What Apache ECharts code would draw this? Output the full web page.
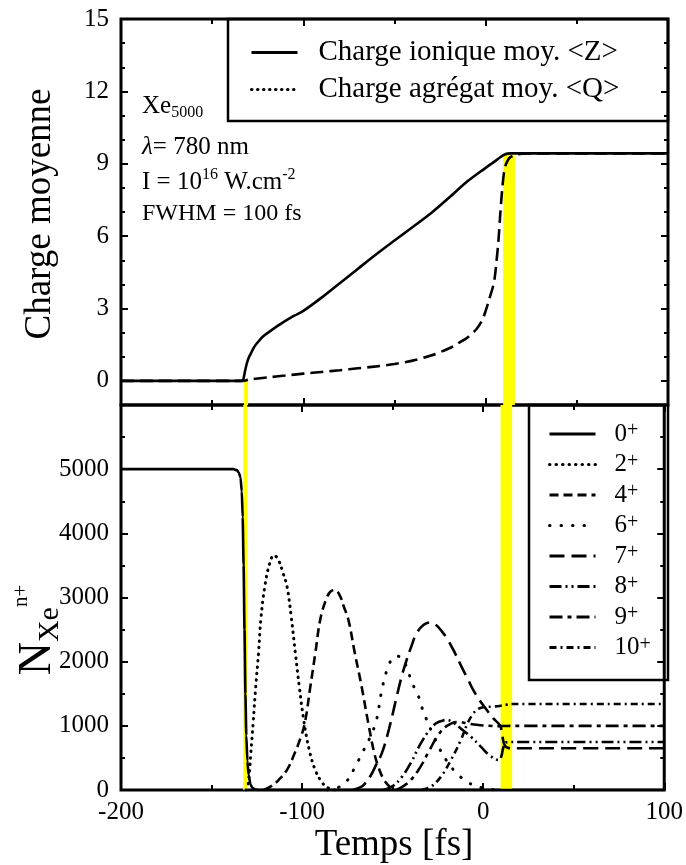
<!DOCTYPE html>
<html>
<head>
<meta charset="utf-8">
<script src="https://cdn.jsdelivr.net/npm/echarts@6/dist/echarts.min.js"></script>
<style>
  html, body { margin: 0; padding: 0; background: #fff; }
  #chart { width: 686px; height: 865px; }
</style>
</head>
<body>
<div id="chart"></div>
<script>
// ---- time axis ----
const timeRange = [-200, 100];

// ---- upper panel: mean charges ----
const zTime = [-200,-137,-134,-133,-132.5,-132,-131,-130,-129,-127,-125,-122,-118,-112,-105,-100,-90,-80,-70,-60,-50,-40,-30,-20,-10,0,5,8,10,12,14,17,20,30,100];
const zMean = [0,0,0,0.05,0.2,0.4,0.72,0.95,1.1,1.4,1.6,1.85,2.07,2.38,2.7,2.9,3.45,4.05,4.65,5.25,5.82,6.38,6.95,7.6,8.27,8.83,9.1,9.27,9.37,9.42,9.43,9.43,9.43,9.43,9.43];

const qTime = [-200,-133,-130,-120,-110,-100,-90,-80,-70,-60,-50,-40,-30,-20,-15,-10,-5,-2,0,2,4,5,6,7,8,9,10,11,12,13,15,18,22,100];
const qMean = [0,0,0.05,0.14,0.22,0.3,0.37,0.44,0.52,0.6,0.7,0.84,1.05,1.35,1.56,1.8,2.15,2.5,2.9,3.4,3.9,4.3,5.0,5.8,6.9,7.9,8.6,8.95,9.12,9.24,9.33,9.4,9.43,9.43];

// ---- lower panel: ion populations per charge state ----
const n0Time = [-200,-138,-136,-135,-134,-133.3,-132.8,-132.3,-131.8,-131.3,-130.8,-130.2,-129.5,-128.5,-127.5,-126,-124,100];
const n0 = [5000,5000,4985,4950,4870,4650,4250,3500,2500,1500,850,450,230,90,35,10,0,0];

const n2Time = [-131,-130,-129,-128.3,-127,-125.6,-124,-122.8,-120.6,-118,-115.5,-113,-110.5,-108.3,-106,-103.7,-101.5,-99.1,-96,-92.7,-89,-86,-82];
const n2 = [0,50,300,576,1050,1610,2150,2650,3170,3520,3660,3580,3380,3170,2700,2130,1600,1090,620,310,120,40,0];

const n4Time = [-121,-117,-113,-108,-104,-101,-98.5,-95.5,-92.7,-90,-87,-84,-81.7,-79,-77,-74.4,-71,-67.1,-63.5,-60,-57.5,-55,-52,-49];
const n4 = [0,60,155,330,580,800,1040,1600,2130,2650,2950,3100,3115,3020,2860,2650,2150,1610,1050,560,330,170,60,0];

const n6Time = [-86,-80,-75,-70.7,-66,-62,-59,-56,-53,-50,-48,-45,-42,-39.6,-36,-34,-31.5,-28,-24,-20,-15,-10,-5,0,6];
const n6 = [0,40,150,363,620,850,1080,1550,1880,2060,2090,2050,1900,1690,1480,1300,1115,880,640,450,270,150,70,30,0];

const n7Time = [-72,-68,-65.9,-62,-59,-56,-52,-47.8,-45,-42.3,-39.5,-36.8,-33,-29.4,-26,-22.5,-19.5,-15.5,-11.9,-8.5,-5.5,-2,1.9,5.5,9.2,10.2,11,12,13.5,16,100];
const n7 = [0,40,80,230,400,570,950,1450,1770,2025,2250,2440,2570,2610,2570,2460,2340,2130,1920,1730,1560,1400,1250,1120,1010,920,780,690,660,650,650];

const n8Time = [-55,-50,-45,-40,-35,-30,-26,-22,-20,-16,-12.4,-6.8,-1.3,3.3,8.8,10,11,12,13,15,100];
const n8 = [0,60,200,420,700,920,1040,1085,1090,1040,958,830,675,545,467,520,650,730,745,748,748];

const n9Time = [-48,-42,-36,-30,-25,-20,-14,-9,-5,0,5,9,13,16,100];
const n9 = [0,100,300,600,850,1000,1060,1040,1020,1005,998,995,998,1000,1000];

const n10Time = [-34,-29,-23.4,-17.8,-12.3,-8.6,-5.5,-3,0,5,9,13,16,100];
const n10 = [0,50,205,467,780,1040,1190,1260,1290,1300,1310,1330,1340,1340];

// ---- highlighted time windows [start, end] and their top level in the upper panel ----
const windows = [[-132.5, -130.3], [9.6, 16]];
const windowTopCharge = [0.05, 9.35];

// ---- tick labels ----
const chargeTicks = [0, 3, 6, 9, 12, 15];
const popTicks = [0, 1000, 2000, 3000, 4000, 5000];

const SERIF = "'Liberation Serif', 'DejaVu Serif', serif";
const zip = (t, v) => t.map((x, i) => [x, v[i]]);

const chart = echarts.init(document.getElementById('chart'));

function xAxisDef(grid, pos, labels) {
  return {
    type: 'value', gridIndex: grid, position: pos,
    min: timeRange[0], max: timeRange[1], interval: 100,
    axisLine: { show: false, onZero: false },
    axisTick: { show: true, inside: true, length: 7, lineStyle: { color: '#000', width: 2 } },
    minorTick: { show: true, splitNumber: 2, length: 5, lineStyle: { color: '#000', width: 2 } },
    axisLabel: { show: labels, color: '#000', fontFamily: SERIF, fontSize: 25, margin: 10 },
    splitLine: { show: false }, minorSplitLine: { show: false }
  };
}

function chargeAxis(pos, labels, majors) {
  return {
    type: 'value', gridIndex: 0, position: pos,
    min: -1, max: 15, interval: 1,
    axisLine: { show: false, onZero: false },
    axisTick: majors
      ? { show: true, inside: true, length: 7, customValues: chargeTicks, lineStyle: { color: '#000', width: 2 } }
      : { show: true, inside: true, length: 4, lineStyle: { color: '#000', width: 2 } },
    axisLabel: labels
      ? { show: true, color: '#000', fontFamily: SERIF, fontSize: 25, margin: 12,
          formatter: v => chargeTicks.includes(v) ? String(v) : '' }
      : { show: false },
    splitLine: { show: false }
  };
}

function popAxis(pos, labels) {
  return {
    type: 'value', gridIndex: 1, position: pos,
    min: 0, max: 6000, interval: 1000,
    axisLine: { show: false, onZero: false },
    axisTick: { show: true, inside: true, length: 7, lineStyle: { color: '#000', width: 2 } },
    minorTick: { show: true, splitNumber: 2, length: 4, lineStyle: { color: '#000', width: 2 } },
    axisLabel: labels
      ? { show: true, color: '#000', fontFamily: SERIF, fontSize: 25, margin: 12,
          formatter: v => popTicks.includes(v) ? String(v) : '' }
      : { show: false },
    splitLine: { show: false }, minorSplitLine: { show: false }
  };
}

function curve(name, xi, yi, t, v, dash, extra) {
  return Object.assign({
    name, type: 'line', xAxisIndex: xi, yAxisIndex: yi,
    data: zip(t, v), symbol: 'none', smooth: 0.4,
    z: 3, silent: true,
    lineStyle: { color: '#000', width: 2.6, type: dash || 'solid' },
    itemStyle: { color: '#000' }
  }, extra || {});
}

const dotStyle = (gap) => ({ color: '#000', width: 3, type: [0.5, gap], cap: 'round' });

const windowSeries = (xi, yi, top) => ({
  type: 'line', xAxisIndex: xi, yAxisIndex: yi, data: [], z: 1, silent: true,
  markArea: {
    silent: true,
    itemStyle: { color: '#ffff00', opacity: 1 },
    data: windows.map((w, i) => [
      { xAxis: w[0], yAxis: top ? -1 : 0 },
      { xAxis: w[1], yAxis: top ? windowTopCharge[i] : 6000 }
    ])
  }
});

const supRich = {
  b: { fontFamily: SERIF, fontSize: 25, color: '#000', lineHeight: 26, verticalAlign: 'middle' },
  s: { fontFamily: SERIF, fontSize: 20, color: '#000', lineHeight: 14, verticalAlign: 'top' }
};

const option = {
  animation: false,
  backgroundColor: '#fff',
  grid: [
    { left: 121, right: 18, top: 19, height: 386, show: true, borderColor: '#000', borderWidth: 3, backgroundColor: 'transparent' },
    { left: 121, right: 18, top: 405, height: 385, show: true, borderColor: '#000', borderWidth: 3, backgroundColor: 'transparent' }
  ],
  xAxis: [
    xAxisDef(0, 'bottom', false),
    xAxisDef(0, 'top', false),
    xAxisDef(1, 'bottom', true),
    xAxisDef(1, 'top', false)
  ],
  yAxis: [
    chargeAxis('left', true, false),
    chargeAxis('left', false, true),
    chargeAxis('right', false, false),
    chargeAxis('right', false, true),
    popAxis('left', true),
    popAxis('right', false)
  ],
  legend: [
    {
      left: 250, top: 38, orient: 'vertical', padding: 0, itemGap: 8,
      itemWidth: 46, itemHeight: 14, selectedMode: false,
      itemStyle: { opacity: 0, borderWidth: 0 },
      lineStyle: { width: 3 },
      textStyle: { fontFamily: SERIF, fontSize: 29, color: '#000', padding: [0, 0, 0, 16], lineHeight: 29 },
      data: [
        { name: 'Charge ionique moy. <Z>' },
        { name: 'Charge agrégat moy. <Q>', lineStyle: dotStyle(5.5) }
      ]
    },
    {
      left: 548, top: 421, orient: 'vertical', padding: 0, itemGap: 5,
      itemWidth: 46, itemHeight: 14, selectedMode: false,
      itemStyle: { opacity: 0, borderWidth: 0 },
      lineStyle: { width: 3 },
      formatter: name => '{b|' + name.slice(0, -1) + '}{s|+}',
      textStyle: { padding: [0, 0, 0, 14], rich: supRich },
      data: ['0+', '2+', '4+', '6+', '7+', '8+', '9+', '10+']
    }
  ],
  series: [
    windowSeries(0, 0, true),
    windowSeries(2, 4, false),
    curve('Charge ionique moy. <Z>', 0, 0, zTime, zMean, 'solid', { smooth: 0.3 }),
    curve('Charge agrégat moy. <Q>', 0, 0, qTime, qMean, [13, 6], { smooth: 0.3 }),
    curve('0+', 2, 4, n0Time, n0, 'solid', { smooth: 0.2, smoothMonotone: 'x' }),
    curve('2+', 2, 4, n2Time, n2, null, { lineStyle: dotStyle(6) }),
    curve('4+', 2, 4, n4Time, n4, [9, 5]),
    curve('6+', 2, 4, n6Time, n6, null, { lineStyle: dotStyle(11) }),
    curve('7+', 2, 4, n7Time, n7, [15, 7]),
    curve('8+', 2, 4, n8Time, n8, [12, 4, 2, 4, 2, 4]),
    curve('9+', 2, 4, n9Time, n9, [13, 5, 4, 5]),
    curve('10+', 2, 4, n10Time, n10, [7, 4, 2, 4])
  ],
  graphic: [
    { type: 'rect', z: 20, shape: { x: 228, y: 19, width: 440, height: 102 },
      style: { fill: 'none', stroke: '#000', lineWidth: 2.5 } },
    { type: 'rect', z: 20, shape: { x: 529, y: 405, width: 139, height: 275 },
      style: { fill: 'none', stroke: '#000', lineWidth: 2.5 } },
    { type: 'text', z: 20, x: 142, y: 106,
      style: { text: '{m|Xe}{d|5000}', verticalAlign: 'middle', textVerticalAlign: 'middle',
        rich: {
          m: { fontFamily: SERIF, fontSize: 25, color: '#000', lineHeight: 30, verticalAlign: 'middle' },
          d: { fontFamily: SERIF, fontSize: 16, color: '#000', lineHeight: 14, verticalAlign: 'bottom' }
        } } },
    { type: 'text', z: 20, x: 142, y: 147,
      style: { text: '{i|λ}{m|= 780 nm}', verticalAlign: 'middle', textVerticalAlign: 'middle',
        rich: {
          i: { fontFamily: SERIF, fontSize: 25, fontStyle: 'italic', color: '#000', lineHeight: 30 },
          m: { fontFamily: SERIF, fontSize: 25, color: '#000', lineHeight: 30 }
        } } },
    { type: 'text', z: 20, x: 142, y: 182,
      style: { text: '{m|I = 10}{s|16}{m| W.cm}{s|-2}', verticalAlign: 'middle', textVerticalAlign: 'middle',
        rich: {
          m: { fontFamily: SERIF, fontSize: 25, color: '#000', lineHeight: 30, verticalAlign: 'middle' },
          s: { fontFamily: SERIF, fontSize: 16, color: '#000', lineHeight: 14, verticalAlign: 'top' }
        } } },
    { type: 'text', z: 20, x: 142, y: 214,
      style: { text: 'FWHM = 100 fs', fontFamily: SERIF, fontSize: 24, fill: '#000',
        verticalAlign: 'middle', textVerticalAlign: 'middle' } },
    { type: 'text', z: 20, x: 40, y: 214, rotation: Math.PI / 2,
      style: { text: 'Charge moyenne', fontFamily: SERIF, fontSize: 37, fill: '#000',
        align: 'center', textAlign: 'center', verticalAlign: 'middle', textVerticalAlign: 'middle' } },
    { type: 'text', z: 20, x: 38, y: 630, rotation: Math.PI / 2,
      style: { text: '{n|N}{x|Xe}{s|n+}', align: 'center', textAlign: 'center',
        verticalAlign: 'middle', textVerticalAlign: 'middle',
        rich: {
          n: { fontFamily: SERIF, fontSize: 46, color: '#000', lineHeight: 54, verticalAlign: 'middle' },
          x: { fontFamily: SERIF, fontSize: 30, color: '#000', lineHeight: 30, verticalAlign: 'bottom' },
          s: { fontFamily: SERIF, fontSize: 21, color: '#000', lineHeight: 21, verticalAlign: 'top' }
        } } },
    { type: 'text', z: 20, x: 394, y: 845,
      style: { text: 'Temps [fs]', fontFamily: SERIF, fontSize: 37, fill: '#000',
        align: 'center', textAlign: 'center', verticalAlign: 'middle', textVerticalAlign: 'middle' } }
  ]
};

chart.setOption(option);
</script>
</body>
</html>
